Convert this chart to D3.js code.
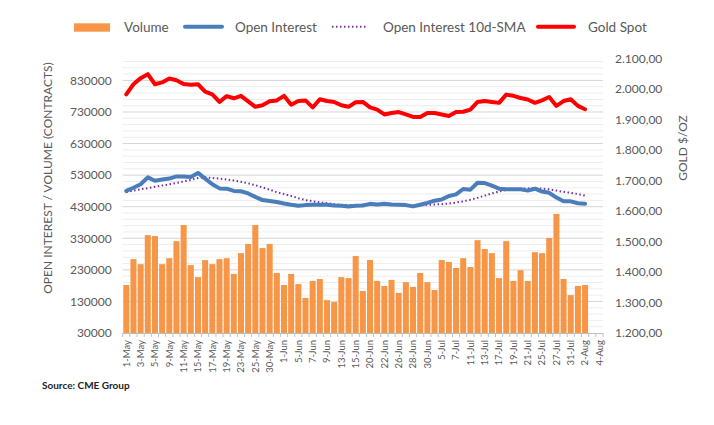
<!DOCTYPE html>
<html><head><meta charset="utf-8">
<script src="https://cdn.jsdelivr.net/npm/d3@7"></script>
<style>
body{margin:0;background:#fff;}
svg{display:block;font-family:Lato, "Open Sans", sans-serif;}
</style></head>
<body><svg id="c" width="714" height="425"></svg>
<script>
const dates = ["1-May","2-May","3-May","4-May","5-May","8-May","9-May","10-May","11-May","12-May","15-May","16-May","17-May","18-May","19-May","22-May","23-May","24-May","25-May","26-May","30-May","31-May",
"1-Jun","2-Jun","5-Jun","6-Jun","7-Jun","8-Jun","9-Jun","12-Jun","13-Jun","14-Jun","15-Jun","16-Jun","20-Jun","21-Jun","22-Jun","23-Jun","26-Jun","27-Jun","28-Jun","29-Jun","30-Jun",
"3-Jul","5-Jul","6-Jul","7-Jul","10-Jul","11-Jul","12-Jul","13-Jul","14-Jul","17-Jul","18-Jul","19-Jul","20-Jul","21-Jul","24-Jul","25-Jul","26-Jul","27-Jul","28-Jul","31-Jul",
"1-Aug","2-Aug","3-Aug","4-Aug"];
const volume = [182000,264000,248000,340000,337000,248000,267000,321000,372000,245000,207000,261000,248000,264000,267000,217000,283000,312000,372000,299000,312000,220000,182000,217000,185000,141000,195000,201000,134000,128000,207000,204000,274000,163000,261000,195000,179000,198000,157000,191000,176000,220000,191000,166000,261000,255000,236000,267000,239000,324000,296000,283000,204000,321000,195000,229000,195000,286000,283000,331000,407000,201000,150000,179000,182000];
const openInterest = [480000,490000,501000,523000,512000,516000,519000,526000,526000,524000,537000,519000,501000,488000,487000,480000,479000,472000,461000,451000,448000,445000,440000,436000,433000,435000,436000,436000,436000,434000,433000,431000,433000,434000,439000,437000,439000,437000,436000,435000,431000,436000,442000,449000,453000,464000,469000,486000,484000,506000,505000,497000,487000,485000,485000,485000,481000,487000,478000,474000,459000,447000,447000,441000,439000];
const oiSMA = [476000,481000,485000,489000,493000,497000,501000,505000,510000,515000,521000,523000,521000,519000,516000,513000,509000,504000,498000,491000,484000,476000,470000,464000,457000,451000,447000,444000,441000,438000,436000,435000,435000,436000,436000,436000,436000,436000,435000,435000,435000,435000,436000,437000,438000,440000,443000,447000,452000,458000,465000,472000,478000,483000,485000,487000,488000,489000,487000,485000,481000,477000,474000,470000,465000];
const goldSpot = [1982,2015,2035,2048,2015,2021,2034,2028,2016,2013,2015,1991,1982,1957,1976,1969,1977,1959,1941,1946,1959,1962,1977,1948,1960,1962,1939,1966,1960,1957,1946,1941,1956,1957,1939,1932,1916,1921,1924,1916,1908,1908,1921,1921,1916,1911,1924,1925,1932,1957,1960,1957,1954,1981,1977,1970,1965,1954,1962,1973,1944,1960,1966,1944,1933];
const leftTicks = d3.range(30000, 830001, 100000);
const minorTicks = d3.range(30000, 900000, 20000);
const rightTicks = d3.range(1200, 2101, 100);

const svg = d3.select("#c");
const L = 122.7, R = 603, T = 58.3, B = 333;
const x = d3.scaleBand().domain(dates).range([L, R]).paddingInner(0.16).paddingOuter(0.08);
const yL = d3.scaleLinear().domain([30000, 900000]).range([B, T]);
const yR = d3.scaleLinear().domain([1200, 2100]).range([B, T]);
const cx = i => x(dates[i]) + x.bandwidth() / 2;
const txt = "#595959";

// gridlines
svg.append("g").selectAll("line").data(minorTicks.filter(v => (v - 30000) % 100000 !== 0)).join("line")
  .attr("x1", L).attr("x2", R).attr("y1", d => yL(d)).attr("y2", d => yL(d))
  .attr("stroke", "#EDEDED").attr("stroke-width", 1);
svg.append("g").selectAll("line").data(leftTicks.slice(1)).join("line")
  .attr("x1", L).attr("x2", R).attr("y1", d => yL(d)).attr("y2", d => yL(d))
  .attr("stroke", "#D4D4D4").attr("stroke-width", 1);

// left axis
const gL = svg.append("g").attr("transform", `translate(${L - 11},0)`)
  .call(d3.axisLeft(yL).tickValues(leftTicks).tickSize(0).tickPadding(0).tickFormat(d3.format("d")));
gL.select(".domain").remove();
gL.selectAll("text").attr("fill", txt).style("font-size", "12px").style("font-family", "Lato");

// right axis
const loc = d3.formatLocale({decimal: ",", thousands: ".", grouping: [3], currency: ["", ""]});
const gR = svg.append("g").attr("transform", `translate(${R + 12},0)`)
  .call(d3.axisRight(yR).tickValues(rightTicks).tickSize(0).tickPadding(0).tickFormat(loc.format(",.2f")));
gR.select(".domain").remove();
gR.selectAll("text").attr("fill", txt).style("font-size", "12px").style("font-family", "Lato");

// bars
svg.append("g").selectAll("rect").data(volume).join("rect")
  .attr("x", (d, i) => x(dates[i])).attr("width", x.bandwidth())
  .attr("y", d => yL(d)).attr("height", d => yL(30000) - yL(d))
  .attr("fill", "#F79646");

// x axis
svg.append("line").attr("x1", L).attr("x2", R).attr("y1", B + 0.5).attr("y2", B + 0.5).attr("stroke", "#BFBFBF");
svg.append("g").selectAll("line").data(d3.range(dates.length + 1)).join("line")
  .attr("x1", i => L + i * (R - L) / dates.length).attr("x2", i => L + i * (R - L) / dates.length)
  .attr("y1", B).attr("y2", B + 4).attr("stroke", "#BFBFBF");
svg.append("g").selectAll("text").data(dates.filter((d, i) => i % 2 === 0)).join("text")
  .attr("transform", d => `translate(${x(d) + x.bandwidth() / 2},${B + 7}) rotate(-90)`)
  .attr("text-anchor", "end").attr("dy", "0.35em")
  .attr("fill", txt).style("font-size", "9.5px").text(d => d);

// lines
const lineL = d3.line().x((d, i) => cx(i)).y(d => yL(d));
const lineR = d3.line().x((d, i) => cx(i)).y(d => yR(d));
svg.append("path").datum(oiSMA).attr("d", lineL).attr("fill", "none")
  .attr("stroke", "#7030A0").attr("stroke-width", 2).attr("stroke-dasharray", "1.5,2.5");
svg.append("path").datum(openInterest).attr("d", lineL).attr("fill", "none")
  .attr("stroke", "#4A7EBB").attr("stroke-width", 4).attr("stroke-linejoin", "round").attr("stroke-linecap", "round");
svg.append("path").datum(goldSpot).attr("d", lineR).attr("fill", "none")
  .attr("stroke", "#FF0000").attr("stroke-width", 4).attr("stroke-linejoin", "round").attr("stroke-linecap", "round");

// axis titles
svg.append("text").attr("transform", "translate(48,178) rotate(-90)").attr("text-anchor", "middle")
  .attr("dy", "0.35em").attr("fill", txt).style("font-size", "12px").text("OPEN INTEREST / VOLUME (CONTRACTS)");
svg.append("text").attr("transform", "translate(683,148) rotate(-90)").attr("text-anchor", "middle")
  .attr("dy", "0.35em").attr("fill", txt).style("font-size", "12px").text("GOLD $/OZ");

// legend
const lg = svg.append("g");
lg.append("rect").attr("x", 74).attr("y", 23.3).attr("width", 36).attr("height", 8.4).attr("fill", "#F79646");
lg.append("text").attr("x", 124).attr("y", 27).attr("dy", "0.35em").attr("fill", txt).style("font-size", "13.5px").text("Volume");
lg.append("line").attr("x1", 185).attr("x2", 222).attr("y1", 26.7).attr("y2", 26.7).attr("stroke", "#4A7EBB").attr("stroke-width", 4).attr("stroke-linecap", "round");
lg.append("text").attr("x", 235).attr("y", 27).attr("dy", "0.35em").attr("fill", txt).style("font-size", "13.5px").text("Open Interest");
lg.append("line").attr("x1", 332).attr("x2", 367).attr("y1", 26.7).attr("y2", 26.7).attr("stroke", "#7030A0").attr("stroke-width", 2).attr("stroke-dasharray", "1.5,2.5");
lg.append("text").attr("x", 383).attr("y", 27).attr("dy", "0.35em").attr("fill", txt).style("font-size", "13.5px").text("Open Interest 10d-SMA");
lg.append("line").attr("x1", 538).attr("x2", 574).attr("y1", 26.7).attr("y2", 26.7).attr("stroke", "#FF0000").attr("stroke-width", 4).attr("stroke-linecap", "round");
lg.append("text").attr("x", 588).attr("y", 27).attr("dy", "0.35em").attr("fill", txt).style("font-size", "13.5px").text("Gold Spot");

svg.append("text").attr("x", 42).attr("y", 385).attr("dy", "0.35em").attr("fill", "#222")
  .style("font-size", "10px").style("font-weight", "bold").text("Source: CME Group");
</script></body></html>
